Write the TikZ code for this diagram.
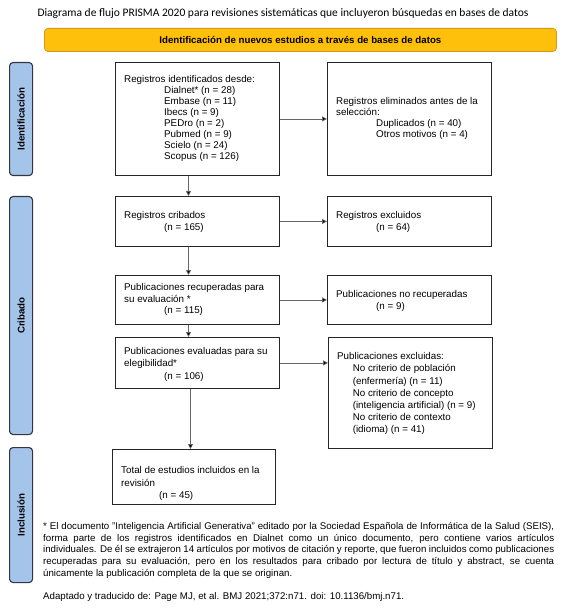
\documentclass[tikz,border=0pt]{standalone}
\usepackage{fontspec}
\setmainfont{Liberation Sans}
\newfontfamily\titlefont{Carlito}
\usetikzlibrary{arrows.meta}
\definecolor{barfill}{RGB}{255,192,12}
\definecolor{bardraw}{RGB}{210,155,25}
\definecolor{sidefill}{RGB}{165,196,234}
\definecolor{sidedraw}{RGB}{50,55,65}
\begin{document}
\begin{tikzpicture}[x=1pt,y=-1pt,
  box/.style={draw=black!85, line width=0.9pt, inner sep=0pt, anchor=north west},
  side/.style={draw=sidedraw, fill=sidefill, line width=1.1pt, rounded corners=3.5pt, inner sep=0pt, anchor=north west, minimum width=23pt},
  sidelbl/.style={font=\bfseries\fontsize{9.7}{11}\selectfont, rotate=90, inner sep=0pt},
  txt/.style={font=\fontsize{9.8}{11.6}\selectfont, align=left, inner sep=0pt, anchor=west},
  arr/.style={draw=black!60, line width=0.7pt, -{Triangle[length=5pt,width=5pt,fill=black]}},
]
\useasboundingbox (0,0) rectangle (567,612);
% title
\node[font=\titlefont\fontsize{11.5}{13}\selectfont, inner sep=0pt] (title) at (283,13) {Diagrama de flujo PRISMA 2020 para revisiones sistemáticas que incluyeron búsquedas en bases de datos};
% yellow bar
\node[draw=bardraw, fill=barfill, line width=0.8pt, rounded corners=3.5pt, minimum width=512pt, minimum height=23pt, inner sep=0pt, anchor=north west, font=\bfseries\fontsize{9.7}{11}\selectfont] (bar) at (44,28) {Identificación de nuevos estudios a través de bases de datos};
% side boxes
\node[side, minimum height=113pt] (sid) at (9,62) {};
\node[sidelbl] (sidl) at (sid.center) {Identificación};
\node[side, minimum height=238pt] (scr) at (9,196) {};
\node[sidelbl] (scrl) at (scr.center) {Cribado};
\node[side, minimum height=135pt] (sin) at (9,447) {};
\node[sidelbl] (sinl) at (sin.center) {Inclusión};
% boxes
\node[box, minimum width=164pt, minimum height=113pt] (ident) at (115,62) {};
\node[box, minimum width=164pt, minimum height=113pt] (elim) at (327,62) {};
\node[box, minimum width=164pt, minimum height=50pt] (crib) at (115,196) {};
\node[box, minimum width=164pt, minimum height=50pt] (excl) at (327,196) {};
\node[box, minimum width=164pt, minimum height=49pt] (recup) at (115,275) {};
\node[box, minimum width=164pt, minimum height=49pt] (norec) at (327,275) {};
\node[box, minimum width=164pt, minimum height=51pt] (eval) at (115,337) {};
\node[box, minimum width=164pt, minimum height=111pt] (pexcl) at (328,337) {};
\node[box, minimum width=163pt, minimum height=55pt] (total) at (112,449) {};
% texts
\node[txt, font=\fontsize{9.8}{11.1}\selectfont] (identt) at (124,118.5) {Registros identificados desde:\\
\hspace*{40pt}Dialnet* (n = 28)\\
\hspace*{40pt}Embase (n = 11)\\
\hspace*{40pt}Ibecs (n = 9)\\
\hspace*{40pt}PEDro (n = 2)\\
\hspace*{40pt}Pubmed (n = 9)\\
\hspace*{40pt}Scielo (n = 24)\\
\hspace*{40pt}Scopus (n = 126)};
\node[txt, font=\fontsize{9.8}{11.1}\selectfont] (elimt) at (336,118.5) {Registros eliminados antes de la\\
selección:\\
\hspace*{40pt}Duplicados (n = 40)\\
\hspace*{40pt}Otros motivos (n = 4)};
\node[txt] (cribt) at (124,222) {Registros cribados\\
\hspace*{40pt}(n = 165)};
\node[txt] (exclt) at (336,222) {Registros excluidos\\
\hspace*{40pt}(n = 64)};
\node[txt] (recupt) at (124,299.5) {Publicaciones recuperadas para\\
su evaluación *\\
\hspace*{40pt}(n = 115)};
\node[txt, font=\fontsize{9.8}{12.4}\selectfont] (norect) at (336,300.8) {Publicaciones no recuperadas\\
\hspace*{40pt}(n = 9)};
\node[txt, font=\fontsize{9.8}{12.4}\selectfont] (evalt) at (124,364.3) {Publicaciones evaluadas para su\\
elegibilidad*\\
\hspace*{40pt}(n = 106)};
\node[txt, font=\fontsize{9.8}{12.2}\selectfont] (pexclt) at (337,393.8) {Publicaciones excluidas:\\
\hspace*{15.6pt}No criterio de población\\
\hspace*{15.6pt}(enfermería) (n = 11)\\
\hspace*{15.6pt}No criterio de concepto\\
\hspace*{15.6pt}(inteligencia artificial) (n = 9)\\
\hspace*{15.6pt}No criterio de contexto\\
\hspace*{15.6pt}(idioma) (n = 41)};
\node[txt, font=\fontsize{9.8}{12.3}\selectfont] (totalt) at (121,483.5) {Total de estudios incluidos en la\\
revisión\\
\hspace*{38pt}(n = 45)};
% arrows
\coordinate (ax) at (188.5,0);
\coordinate (bx) at (190.5,0);
\draw[arr] (ident.east) -- (elim.west);
\draw[arr] (crib.east) -- (excl.west);
\draw[arr] (recup.east) -- (norec.west);
\draw[arr] (eval.east) -- (eval.east -| pexcl.west);
\draw[arr] (ident.south -| ax) -- (crib.north -| ax);
\draw[arr] (crib.south -| ax) -- (recup.north -| ax);
\draw[arr] (recup.south -| ax) -- (eval.north -| ax);
\draw[arr] (eval.south -| bx) -- (total.north -| bx);
% footnote
\node[txt, anchor=north west, font=\fontsize{9.7}{11.8}\selectfont] (foot) at (43,522) {%
\makebox[511pt][s]{* El documento "Inteligencia Artificial Generativa" editado por la Sociedad Española de Informática de la Salud (SEIS),}\\
\makebox[511pt][s]{forma parte de los registros identificados en Dialnet como un único documento, pero contiene varios artículos}\\
\makebox[511pt][s]{individuales. De él se extrajeron 14 artículos por motivos de citación y reporte, que fueron incluidos como publicaciones}\\
\makebox[511pt][s]{recuperadas para su evaluación, pero en los resultados para cribado por lectura de título y abstract, se cuenta}\\
únicamente la publicación completa de la que se originan.};
\node[txt, font=\fontsize{9.7}{11}\selectfont] (adapt) at (43,597) {Adaptado y traducido de: Page MJ, et al. BMJ 2021;372:n71. doi: 10.1136/bmj.n71.};
\end{tikzpicture}
\end{document}
